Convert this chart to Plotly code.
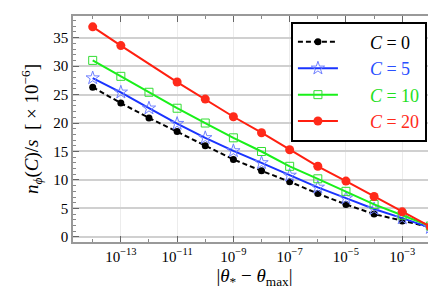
import plotly.graph_objects as go

# x positions as exponents of |theta_* - theta_max|
x_exp = [-14, -13, -12, -11, -10, -9, -8, -7, -6, -5, -4, -3, -2]
x_exp_red = [-14, -13, -11, -10, -9, -8, -7, -6, -5, -4, -3, -2]

y_c0 = [26.3, 23.5, 20.9, 18.5, 16.0, 13.6, 11.6, 9.7, 7.6, 5.7, 4.0, 2.8, 1.7]
y_c5 = [27.9, 25.4, 22.6, 19.9, 17.4, 15.1, 13.0, 10.8, 8.7, 6.8, 4.9, 3.3, 1.6]
y_c10 = [31.0, 28.2, 25.4, 22.6, 20.0, 17.4, 15.0, 12.4, 10.2, 8.0, 5.7, 3.8, 1.9]
y_c20 = [36.9, 33.6, 27.2, 24.2, 21.1, 18.3, 15.3, 12.4, 9.8, 7.1, 4.4, 1.8]

x_tick_exps = [-13, -11, -9, -7, -5, -3]
y_ticks = [0, 5, 10, 15, 20, 25, 30, 35]

FONT = "'Liberation Serif', 'Times New Roman', 'DejaVu Serif', serif"

def xs(exps):
    return [10.0 ** e for e in exps]

fig = go.Figure()
fig.add_trace(go.Scatter(
    x=xs(x_exp), y=y_c0, mode="lines+markers",
    name="<span style='color:black'>\u2003\u2002<i>C</i> = 0</span>",
    line=dict(color="black", width=2, dash="5px,3px"),
    marker=dict(symbol="circle", size=7, color="black")))
fig.add_trace(go.Scatter(
    x=xs(x_exp), y=y_c5, mode="lines+markers",
    name="<span style='color:#2a50ff'>\u2003\u2002<i>C</i> = 5</span>",
    line=dict(color="#1a34ff", width=2),
    marker=dict(symbol="star-open", size=10, color="#6f80ff", line=dict(width=1))))
fig.add_trace(go.Scatter(
    x=xs(x_exp), y=y_c10, mode="lines+markers",
    name="<span style='color:#1ee01e'>\u2003\u2002<i>C</i> = 10</span>",
    line=dict(color="#19f019", width=2),
    marker=dict(symbol="square-open", size=8, color="#33dd33", line=dict(width=1))))
fig.add_trace(go.Scatter(
    x=xs(x_exp_red), y=y_c20, mode="lines+markers",
    name="<span style='color:#ff2a1a'>\u2003\u2002<i>C</i> = 20</span>",
    line=dict(color="#ff1f10", width=2),
    marker=dict(symbol="circle", size=9, color="#ff2a1a")))

fig.update_layout(
    width=436, height=290,
    margin=dict(l=65, r=6, t=6, b=56),
    paper_bgcolor="white", plot_bgcolor="white",
    font=dict(family=FONT, size=15, color="black"),
    legend=dict(
        x=0.975, xanchor="right", y=0.975, yanchor="top",
        bgcolor="white", bordercolor="black", borderwidth=2,
        font=dict(family=FONT, size=18),
        itemwidth=40,
    ),
)
fig.update_xaxes(
    type="log", range=[-14.7, -1.8],
    tickvals=xs(x_tick_exps),
    ticktext=["10<sup>\u2212%d</sup>" % (-e) for e in x_tick_exps],
    ticks="inside", ticklen=6, tickcolor="#666", tickwidth=1,
    showline=True, linecolor="#999", linewidth=1.5, mirror="ticks",
    showgrid=True, gridcolor="#ececec", gridwidth=1,
    zeroline=False,
    minor=dict(ticks="inside", ticklen=3, tickcolor="#888",
               tickvals=xs(x_exp), showgrid=False),
    tickfont=dict(family=FONT, size=15),
    title=dict(text="|<i>\u03b8</i><sub>*</sub> \u2212 <i>\u03b8</i><sub>max</sub>|",
               font=dict(family=FONT, size=19), standoff=4),
)
fig.update_yaxes(
    range=[-0.9, 38.8],
    tickvals=y_ticks,
    ticks="inside", ticklen=6, tickcolor="#666", tickwidth=1,
    showline=True, linecolor="#999", linewidth=1.5, mirror="ticks",
    showgrid=True, gridcolor="#d0d0d0", gridwidth=1.5,
    zeroline=False,
    minor=dict(ticks="inside", ticklen=3, tickcolor="#888", dtick=1, showgrid=False),
    tickfont=dict(family=FONT, size=15),
    title=dict(text="<i>n</i><sub><i>\u03d5</i></sub>(<i>C</i>)/<i>s</i>  [ \u00d7 10<sup>\u22126</sup>]",
               font=dict(family=FONT, size=19), standoff=10),
)

fig.write_html("out.html")
